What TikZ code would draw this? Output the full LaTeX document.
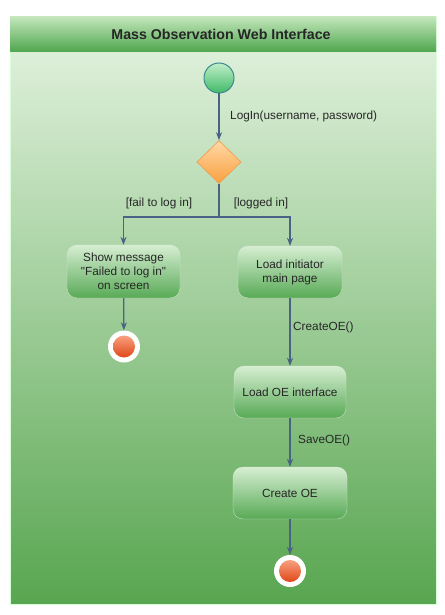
\documentclass[tikz,border=0pt]{standalone}
\usepackage{fontspec}
\setmainfont{Liberation Sans}
\usetikzlibrary{shapes.geometric,arrows.meta}
\definecolor{arrowc}{HTML}{4A6284}
\definecolor{hdtop}{HTML}{C2E6BA}
\definecolor{hdbot}{HTML}{4EA64E}
\definecolor{bdtop}{HTML}{DDEFD9}
\definecolor{bdbot}{HTML}{58A650}
\definecolor{bxtop}{HTML}{D6EED2}
\definecolor{bxbot}{HTML}{58AA56}
\definecolor{dtop}{HTML}{FFD8A6}
\definecolor{dbot}{HTML}{F9A040}
\definecolor{dborder}{HTML}{F09A48}
\definecolor{stop}{HTML}{C0EEC8}
\definecolor{sbot}{HTML}{40BA68}
\definecolor{sborder}{HTML}{3C8A8E}
\definecolor{etop}{HTML}{F8A080}
\definecolor{ebot}{HTML}{E04818}
\tikzset{
  actbox/.style={rounded corners=10pt, top color=bxtop, bottom color=bxbot, draw=bxbot!80!black!20, line width=0.3pt, align=center, font=\fontsize{11.8}{14}\selectfont, inner sep=0pt, text=black!85},
  arr/.style={draw=arrowc, line width=1.3pt, -{Stealth[length=8pt,width=6pt]}},
  plain/.style={draw=arrowc, line width=1.3pt},
  lbl/.style={font=\fontsize{11.8}{13}\selectfont, inner sep=0pt, text=black!85},
}
\begin{document}
\begin{tikzpicture}[x=1pt,y=-1pt]
\useasboundingbox (0,0) rectangle (444,615);
% body
\shade[top color=bdtop, bottom color=bdbot] (10,52) rectangle (436,604);
\draw[white!85!green, line width=0.5pt] (10,17) rectangle (436,604);
% header
\shade[top color=hdtop, bottom color=hdbot] (10,17) rectangle (436,52);
\node[font=\bfseries\fontsize{14.2}{16}\selectfont, text=black!85] (title) at (221,34.5) {Mass Observation Web Interface};
% start
\node[circle, minimum size=30pt, inner sep=0pt, top color=stop, bottom color=sbot, draw=sborder, line width=1pt] (start) at (219,78) {};
% decision
\node[diamond, minimum width=44pt, minimum height=43pt, inner sep=0pt, top color=dtop, bottom color=dbot, draw=dborder, line width=0.6pt] (dec) at (219,162) {};
\coordinate (br) at (219,217);
% boxes
\node[actbox, minimum width=113pt, minimum height=53pt] (show) at (123.5,271.5) {Show message\\\textquotedbl Failed to log in\textquotedbl\\on screen};
\node[actbox, minimum width=104pt, minimum height=52pt] (load) at (290,272) {Load initiator\\main page};
\node[actbox, minimum width=112pt, minimum height=52pt] (loadoe) at (290,392) {Load OE interface};
\node[actbox, minimum width=114pt, minimum height=52pt] (create) at (290,493) {Create OE};
% ends
\node[circle, minimum size=32pt, inner sep=0pt, fill=white] (end1) at (124,346.5) {};
\shade[top color=etop, bottom color=ebot] (end1.center) circle (11pt);
\node[circle, minimum size=32pt, inner sep=0pt, fill=white] (end2) at (290,571) {};
\shade[top color=etop, bottom color=ebot] (end2.center) circle (11pt);
% connectors
\draw[arr] (start) -- (dec);
\draw[plain] (dec) -- (br);
\draw[arr] (br) -| (show.north);
\draw[arr] (br) -| (load.north);
\draw[arr] (show) -- (end1);
\draw[arr] (load) -- (loadoe);
\draw[arr] (loadoe) -- (create);
\draw[arr] (create) -- (end2);
% labels
\node[lbl, anchor=west] (l1) at (230,116) {LogIn(username, password)};
\node[lbl] (l2) at (159,203) {[fail to log in]};
\node[lbl] (l3) at (261,203) {[logged in]};
\node[lbl, anchor=west] (l4) at (293,327) {CreateOE()};
\node[lbl, anchor=west] (l5) at (298,440) {SaveOE()};
\end{tikzpicture}
\end{document}
